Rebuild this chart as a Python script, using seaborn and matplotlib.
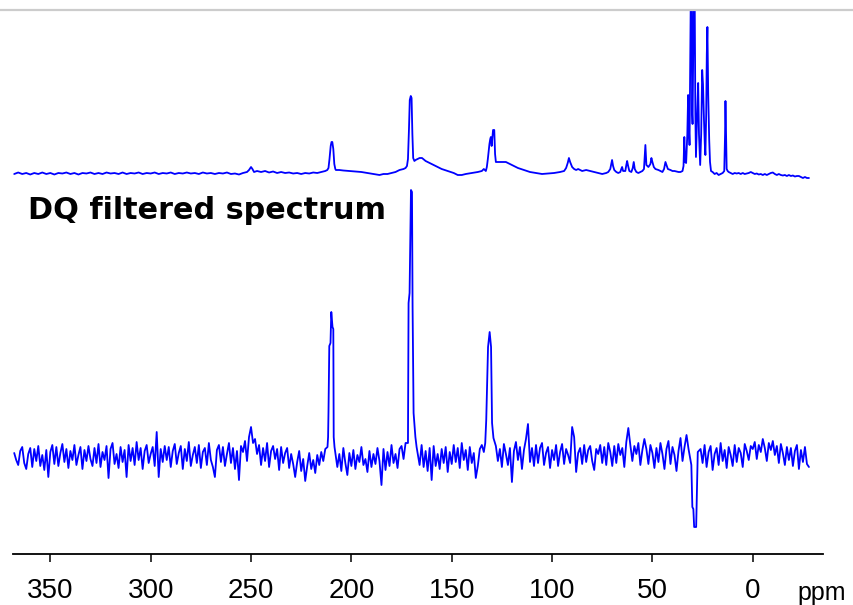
import numpy as np
import pandas as pd
import matplotlib
matplotlib.use("Agg")
import matplotlib.pyplot as plt
import seaborn as sns
from matplotlib.lines import Line2D

# ---- data (ppm positions, intensities in arbitrary units above each baseline) ----
upper_ppm = [368, 366, 364, 362, 360, 358, 356, 354, 352, 350, 348, 346, 344, 342, 340, 338, 336, 334,
             332, 330, 328, 326, 324, 322, 320, 318, 316, 314, 312, 310, 308, 306, 304, 302, 300, 298,
             296, 294, 292, 290, 288, 286, 284, 282, 280, 278, 276, 274, 272, 270, 268, 266, 264, 262,
             260, 258, 256, 254, 252, 251, 250, 249.3, 248.5, 247, 245, 243, 241, 239, 237, 235, 233,
             231, 229, 227, 225, 223, 221, 219, 217, 215, 213, 212, 211.4, 210.9, 210.3, 209.9, 209.5,
             209.0, 208.5, 208, 207.7, 206, 204, 201, 198, 195, 192, 189, 186, 184, 182, 180, 178, 176,
             174, 173, 172.3, 171.8, 171.3, 170.9, 170.4, 170.0, 169.6, 169.2, 168.6, 168, 166, 164.8,
             163, 161, 158, 155, 152, 149, 147, 145, 143, 140, 137, 135, 134, 133, 132.5, 132, 131.2,
             130.8, 130.5, 130.1, 129.4, 128.8, 128.4, 128, 127, 125, 123, 120, 117, 114, 111, 108, 105,
             102, 99, 96, 94, 93, 92.2, 91.6, 91, 90, 89, 88, 87, 86, 85, 83, 81, 79, 77, 75, 73, 72,
             71, 70.5, 70.1, 69.6, 69, 68, 67, 66, 65.5, 65.1, 64.6, 63.5, 63, 62.6, 62.1, 61.5, 60.5,
             59.8, 59.3, 58.8, 58, 57, 56, 55, 54.2, 53.5, 53, 52, 51, 50.5, 50, 49.3, 48.5, 47, 46, 45,
             44.2, 43.5, 43, 42.3, 41, 40, 39, 38, 37, 36, 35, 34.5, 34.1, 33.7, 33.2, 32.6, 32.2, 31.8,
             31.5, 31.1, 30.8, 30.5, 30.2, 30.0, 29.7, 29.3, 29.0, 28.6, 28.3, 27.7, 27.2, 26.8, 26.2,
             25.7, 25.2, 24.8, 24.3, 23.9, 23.6, 23.2, 22.9, 22.6, 22.2, 21.7, 21.3, 20.8, 20, 19, 18,
             17, 16, 15, 14.2, 13.8, 13.6, 13.3, 13, 12.5, 12, 11, 10, 9, 8, 7, 6, 5, 4, 3, 2, 1, 0, -1,
             -2, -3, -4, -5, -6, -7, -8, -9, -10, -11, -12, -13, -14, -15, -16, -17, -18, -19, -20, -21,
             -22, -23, -24, -25, -26, -27, -28]
upper_int = [0, 1.5, 0, 1, -0.5, 1, 0, 1.5, 0, 1, -0.5, 1, 0.5, 1.5, 0, 1, -0.5, 1,
             0.5, 1.5, 0, 1, 0, 1.5, 0.5, 1, 0, 1.5, 0, 1, 0.5, 1.5, 0, 1, 0.5, 1.5,
             0, 1, 0.5, 1.5, 0, 1, 0.5, 1.5, 0.5, 1, 0, 1.5, 0.5, 1, 0, 1, 0.5, 1.5,
             0, 0.5, -0.5, 1, 2, 4, 7, 5, 2, 3, 2, 3, 1.5, 2.5, 1, 2, 1,
             1.5, 0.5, 1, 0, 1, 0.5, 1.5, 1, 2, 3, 4, 6, 15, 28, 32, 32,
             25, 10, 5, 4, 4, 3.5, 3, 2.5, 2, 1, 0, -1, 0, 0, 1, 2, 4,
             5, 6, 8, 15, 45, 74, 78, 76, 40, 16, 13, 14, 16, 16,
             13, 11, 8, 5, 3, 1, -1, -1, 0, 1, 2, 3, 5, 3, 7, 15, 30,
             35, 37, 28, 44, 44, 20, 12, 12, 12, 12, 9, 6, 4, 2, 1, 0,
             0.5, 1, 2, 3, 6, 11, 16, 12, 7, 5, 4, 5, 4, 3, 4, 3, 2, 1, 0, 1, 2,
             5, 10, 14, 8, 4, 2, 1, 2, 5, 7, 3, 3, 9, 13, 8, 3, 2,
             6, 12, 5, 2, 1, 2, 3, 5, 29, 9, 7, 10, 16, 12, 7, 5, 4, 3, 2,
             5, 12, 9, 5, 4, 3, 3, 2.5, 2, 2, 3, 8, 37, 12, 11, 40, 79, 45,
             29, 120, 200, 200, 60, 50, 120, 200, 200, 60, 17, 60, 91, 40, 9,
             40, 104, 90, 54, 30, 19, 60, 120, 147, 80, 34, 12, 3, 2, 0, 1,
             -1, 0, 1, 3, 40, 73, 40, 5, 3, 2, 1, 0, 1, 0.5, 1, 0, 1, 0, 0.5, 1, 2, 1, 0,
             0.5, -0.5, 0, -1, 0, -1, 0, 1, 1.5, 0, -1, 0, -1, -1.5, -1, -2, -1, -2, -1.5, -2.5,
             -2, -2, -3, -4, -3, -4, -4]

# DQ filtered spectrum: baseline sampled every 1 ppm from 368 down to -28
lower_grid_start = 368
lower_noise = [
    4, -3, -8, 6, 10, -6, -12, 3, 9, -10, 8, -4, 11, -9, 2, -13, 7, -20, 5, 12,
    -7, 10, -9, 4, 13, -5, 8, -11, 6, -3, 12, -8, 2, 10, -12, 7, -4, 11, -2, -9,
    9, -6, 13, -10, 5, -3, 11, -21, 8, 14, -7, 3, -11, 10, -5, 7, -20, 12, -4, 9,
    -8, 15, -3, 9, -12, 6, 12, -6, 3, 10, -9, 25, -20, 8, -5, 11, -3, 10, -10, 6,
    13, -7, 4, 11, -12, 8, -4, 15, -9, 2, 10, -6, 12, -11, 5, 9, -8, 14, -3, -10,
    -20, 7, 12, -5, 10, -9, 3, 14, -6, 9, -12, 6, -23, 11, 5, 16, -4, 20, 30, 14,
    18, 3, 12, -8, 9, -4, 14, -10, 6, 11, -2, 8, -13, 10, -6, 4, 9, -11, 3, -7,
    -20, -5, 6, -14, -2, -24, -9, 4, -12, -3, -16, 2, -8, 5, -4, 8, 5, 0, 0, 0,
    6, -10, 3, -14, 9, -6, -18, 4, -9, 7, -12, 2, -5, 10, -8, -2, -15, 6, -10, 3,
    -7, 9, -4, -28, 8, -13, 5, -9, 12, -6, 3, -11, 8, 11, -2, 14, 6, 0, 0, 0,
    0, 4, -8, 12, -10, 6, -14, 9, -23, 11, -9, 3, -12, 8, -6, 10, -15, 5, -7, 12,
    -5, 9, -11, 14, -3, 7, -13, 10, -6, 4, -21, -9, 8, 12, 5, 0, 0, 0, 0, 6,
    11, -4, 8, -10, 13, 3, -8, 9, -25, 6, 15, -3, 10, -12, 7, 18, 33, -5, 9, -9,
    12, -6, 9, 14, -8, 4, 10, -11, 7, -3, 12, -9, 5, 13, -7, 8, 2, -6, 30, 20,
    -15, 4, 9, -7, 12, -5, 7, 11, -4, -13, 8, 3, 12, -6, 10, -8, 14, 5, -9, 11,
    -6, 13, 2, 9, -10, 15, 29, 12, -4, 11, 3, 14, -8, 7, 18, 8, -7, 12, 4, -11,
    9, -5, 14, 3, -12, 8, 16, -7, 10, 2, -14, 6, 19, -4, 10, 22, 8, -8, 0, 0,
    0, 2, 8, -6, 12, -10, 5, 11, -13, 3, 9, -8, 14, -4, 7, -11, 10, 2, -9, 12,
    -5, 9, 4, -10, 13, 6, -3, 11, 8, 15, -2, 12, 5, 18, 9, -4, 14, 7, 16, 2,
    11, -6, 13, 4, -8, 10, -3, 9, -9, 6, 12, -12, 7, -5, 10, -7, -10]

# resolved peaks / dip of the DQ trace
lower_peak_ppm = [211.9, 211.6, 211.4, 211.0, 210.4, 210.0, 209.4, 209.0, 208.8, 208.4,
                  171.8, 171.5, 171.0, 170.3, 169.8, 169.5, 169.0, 168.1, 167.5,
                  133.3, 132.8, 131.9, 131.1, 130.4, 129.9, 129.2,
                  30.6, 30.1, 29.6, 29.2, 28.2, 27.8, 27.4]
lower_peak_int = [10, 20, 45, 111, 114, 145, 130, 128, 20, 10,
                  14, 154, 164, 267, 265, 150, 44, 20, 10,
                  14, 37, 110, 125, 110, 34, 19,
                  -8, -50, -52, -70, -70, -30, 5]

tick_values = [350, 300, 250, 200, 150, 100, 50, 0]
label_text = "DQ filtered spectrum"

# ---- build the DQ trace ----
grid_ppm = lower_grid_start - np.arange(len(lower_noise))
grid = pd.DataFrame({"ppm": grid_ppm, "int": lower_noise})
pk = pd.DataFrame({"ppm": lower_peak_ppm, "int": lower_peak_int})
near = np.abs(grid["ppm"].values[:, None] - pk["ppm"].values[None, :]).min(axis=1) < 0.5
lower = pd.concat([grid[~near], pk]).sort_values("ppm", ascending=False).reset_index(drop=True)
upper = pd.DataFrame({"ppm": upper_ppm, "int": upper_int})

# ---- plot ----
sns.set_style("white")
plt.rcParams["font.family"] = ["Liberation Sans", "DejaVu Sans"]

W, H = 854, 605
fig = plt.figure(figsize=(W / 100, H / 100), dpi=100)
ax = fig.add_axes([13 / W, (H - 554) / H, (823 - 13) / W, (554 - 10) / H])

upper_base = 380
lower_base = 97
blue = "#0000ff"
sns.lineplot(x=upper["ppm"], y=upper["int"] + upper_base, sort=False, estimator=None,
             color=blue, lw=1.3, ax=ax)
sns.lineplot(x=lower["ppm"], y=lower["int"] + lower_base, sort=False, estimator=None,
             color=blue, lw=1.3, ax=ax)

ax.set_xlim(368.6, -35.0)
ax.set_ylim(0, 544)
ax.set_xticks(tick_values)
ax.set_xticklabels([str(v) for v in tick_values])
ax.set_yticks([])
ax.set_xlabel("")
ax.set_ylabel("")
for s in ["left", "right", "top"]:
    ax.spines[s].set_visible(False)
ax.spines["bottom"].set_color("black")
ax.spines["bottom"].set_linewidth(1.3)
ax.tick_params(axis="x", direction="out", length=6, width=1.1, color="black",
               labelsize=20, labelcolor="black", pad=11.5, bottom=True)

fig.text(28 / W, (H - 219) / H, label_text, fontsize=21.8, fontweight="bold",
         family="DejaVu Sans", color="black", va="baseline", ha="left")
fig.text(797 / W, (H - 600) / H, "ppm", fontsize=18, color="black",
         va="baseline", ha="left")

# light frame line along the top
fig.add_artist(Line2D([0, 1], [(H - 10) / H] * 2, color="#cccccc", lw=1.6,
                      transform=fig.transFigure))

fig.savefig("out.png", dpi=100)
